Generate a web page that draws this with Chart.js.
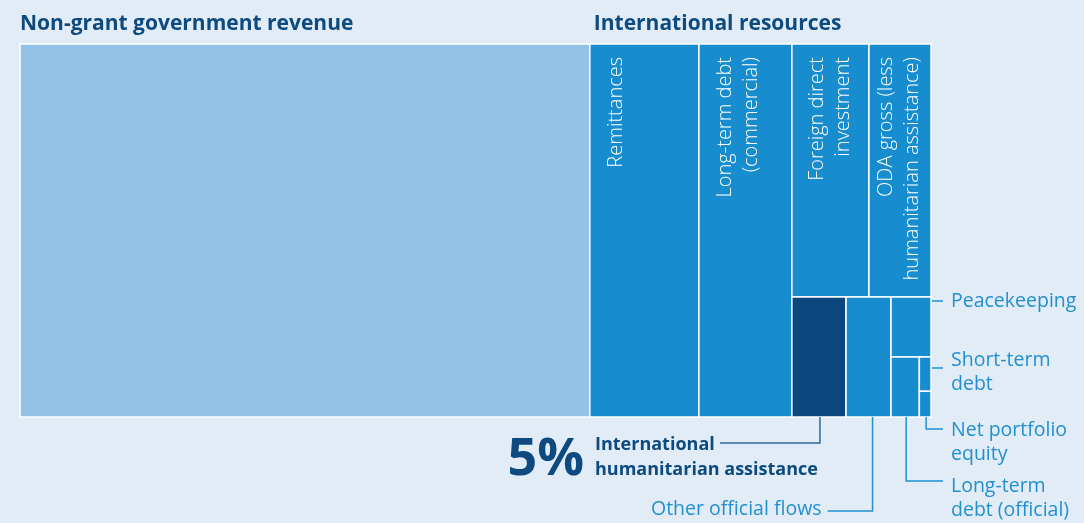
<!DOCTYPE html>
<html>
<head>
<meta charset="utf-8">
<script src="https://cdn.jsdelivr.net/npm/chart.js@4.4.1/dist/chart.umd.min.js"></script>
<style>
  html, body { margin: 0; padding: 0; background: #e1ecf7; }
  #wrap { width: 1084px; height: 523px; }
</style>
</head>
<body>
<div id="wrap"><canvas id="treemap" width="1084" height="523"></canvas></div>
<script>
// Resource flows, US$ billions
const flowNames = [
    ['Non-grant government revenue'],
    ['Remittances'],
    ['Long-term debt', '(commercial)'],
    ['Foreign direct', 'investment'],
    ['ODA gross (less', 'humanitarian assistance)'],
    ['International', 'humanitarian assistance'],
    ['Other official flows'],
    ['Peacekeeping'],
    ['Long-term', 'debt (official)'],
    ['Short-term', 'debt'],
    ['Net portfolio', 'equity']
];
const flowValues = [212.6, 40.7, 34.7, 19.5, 15.7, 6.5, 5.4, 2.4, 1.7, 0.4, 0.3];
const groupTitles = ['Non-grant government revenue', 'International resources'];

// nesting of the flows (indexes into the arrays above), split direction per group
const tree = {dir: 'x', items: [
    0,
    {dir: 'x', id: 'intl', items: [1, 2,
        {dir: 'y', items: [
            {dir: 'x', items: [3, 4]},
            {dir: 'x', items: [5, 6,
                {dir: 'y', items: [7,
                    {dir: 'x', items: [8, {dir: 'y', items: [9, 10]}]}
                ]}
            ]}
        ]}
    ]}
]};

const NGR = '#93c1e7', INTL = '#178dd0', IHA = '#0b467d';
const DARK = '#0c4a80', MID = '#2290d0';
const FONT = '"Open Sans"';

function total(node) {
    return typeof node === 'number' ? flowValues[node] : node.items.reduce((s, c) => s + total(c), 0);
}

// slice-and-dice in value space (0..1 on both axes)
function layout(node, x0, y0, x1, y1, out) {
    if (typeof node === 'number') { out[node] = {x0, y0, x1, y1}; return; }
    if (node.id) out[node.id] = {x0, y0, x1, y1};
    const sum = total(node);
    let pos = node.dir === 'x' ? x0 : y0;
    node.items.forEach(c => {
        const f = total(c) / sum;
        if (node.dir === 'x') {
            const w = (x1 - x0) * f;
            layout(c, pos, y0, pos + w, y1, out);
            pos += w;
        } else {
            const h = (y1 - y0) * f;
            layout(c, x0, pos, x1, pos + h, out);
            pos += h;
        }
    });
}

const cells = {};
layout(tree, 0, 0, 1, 1, cells);

const treemapPlugin = {
    id: 'treemap',
    afterDatasetsDraw(chart) {
        const ctx = chart.ctx;
        const xs = chart.scales.x, ys = chart.scales.y;
        const px = r => ({
            l: xs.getPixelForValue(r.x0), r: xs.getPixelForValue(r.x1),
            t: ys.getPixelForValue(r.y0), b: ys.getPixelForValue(r.y1)
        });
        const rects = flowValues.map((v, i) => px(cells[i]));
        ctx.save();

        // cells
        rects.forEach((p, i) => {
            ctx.fillStyle = i === 0 ? NGR : (i === 5 ? IHA : INTL);
            ctx.fillRect(p.l, p.t, p.r - p.l, p.b - p.t);
            ctx.strokeStyle = '#ffffff';
            ctx.lineWidth = 1.5;
            ctx.strokeRect(p.l, p.t, p.r - p.l, p.b - p.t);
        });

        // group titles
        ctx.fillStyle = DARK;
        ctx.font = 'bold 21px ' + FONT;
        ctx.textAlign = 'left';
        ctx.textBaseline = 'alphabetic';
        ctx.fillText(groupTitles[0], rects[0].l, 30);
        ctx.fillText(groupTitles[1], px(cells.intl).l + 4, 30);

        // rotated labels inside the big cells
        ctx.fillStyle = '#ffffff';
        ctx.font = '300 20px ' + FONT;
        [1, 2, 3, 4].forEach(i => {
            const p = rects[i];
            const lines = flowNames[i];
            const block = 15 + (lines.length - 1) * 26 + 4;
            const pad = Math.min(17, (p.r - p.l - block) / 2);
            lines.forEach((s, k) => {
                ctx.save();
                ctx.translate(p.l + pad + 15 + k * 26, p.t + 13);
                ctx.rotate(-Math.PI / 2);
                ctx.textAlign = 'right';
                ctx.fillText(s, 0, 0);
                ctx.restore();
            });
        });

        // leader lines and outside labels
        const area = chart.chartArea;
        const tx = area.right + 20;
        const cx = i => (rects[i].l + rects[i].r) / 2 + 1;
        ctx.lineWidth = 1.5;
        ctx.strokeStyle = MID;
        ctx.fillStyle = MID;
        ctx.font = '19.5px ' + FONT;
        ctx.textAlign = 'left';
        const seg = pts => {
            ctx.beginPath();
            ctx.moveTo(pts[0][0], pts[0][1]);
            pts.slice(1).forEach(q => ctx.lineTo(q[0], q[1]));
            ctx.stroke();
        };
        const text = (lines, x, y) => lines.forEach((s, k) => ctx.fillText(s, x, y + k * 24));

        // Peacekeeping
        let ly = rects[7].t + 4;
        seg([[area.right + 1, ly], [area.right + 12, ly]]);
        text(flowNames[7], tx, ly + 6);
        // Short-term debt
        ly = rects[9].t + 11;
        seg([[area.right + 1, ly], [area.right + 12, ly]]);
        text(flowNames[9], tx, ly - 2);
        // Net portfolio equity
        ly = area.bottom + 12;
        seg([[cx(10), area.bottom], [cx(10), ly], [area.right + 12, ly]]);
        text(flowNames[10], tx, ly + 7);
        // Long-term debt (official)
        ly = area.bottom + 64;
        seg([[cx(8), area.bottom], [cx(8), ly], [area.right + 12, ly]]);
        text(flowNames[8], tx, ly + 11);
        // Other official flows
        ly = area.bottom + 94;
        seg([[cx(6) + 3, area.bottom], [cx(6) + 3, ly], [cx(6) - 42, ly]]);
        ctx.textAlign = 'right';
        ctx.fillText(flowNames[6][0], cx(6) - 48, ly + 4);

        // International humanitarian assistance
        ly = area.bottom + 26;
        ctx.strokeStyle = '#2e6a9c';
        seg([[cx(5), area.bottom], [cx(5), ly], [cx(5) - 100, ly]]);
        ctx.fillStyle = DARK;
        ctx.textAlign = 'left';
        ctx.font = 'bold 18px ' + FONT;
        ctx.fillText(flowNames[5][0], 595, ly + 7);
        ctx.fillText(flowNames[5][1], 595, ly + 32);
        const share = Math.round(flowValues[5] / total(tree.items[1]) * 100);
        ctx.font = 'bold 52px ' + FONT;
        ctx.textAlign = 'right';
        ctx.fillText(share + '%', 584, ly + 32);

        ctx.restore();
    }
};

new Chart(document.getElementById('treemap').getContext('2d'), {
    type: 'scatter',
    data: { datasets: [{ data: [], label: 'flows' }] },
    options: {
        responsive: false,
        animation: false,
        layout: { padding: { left: 20, right: 153, top: 44, bottom: 106 } },
        scales: {
            x: { type: 'linear', min: 0, max: 1, display: false },
            y: { type: 'linear', min: 0, max: 1, reverse: true, display: false }
        },
        plugins: {
            legend: { display: false },
            tooltip: { enabled: false }
        }
    },
    plugins: [treemapPlugin]
});
</script>
</body>
</html>
